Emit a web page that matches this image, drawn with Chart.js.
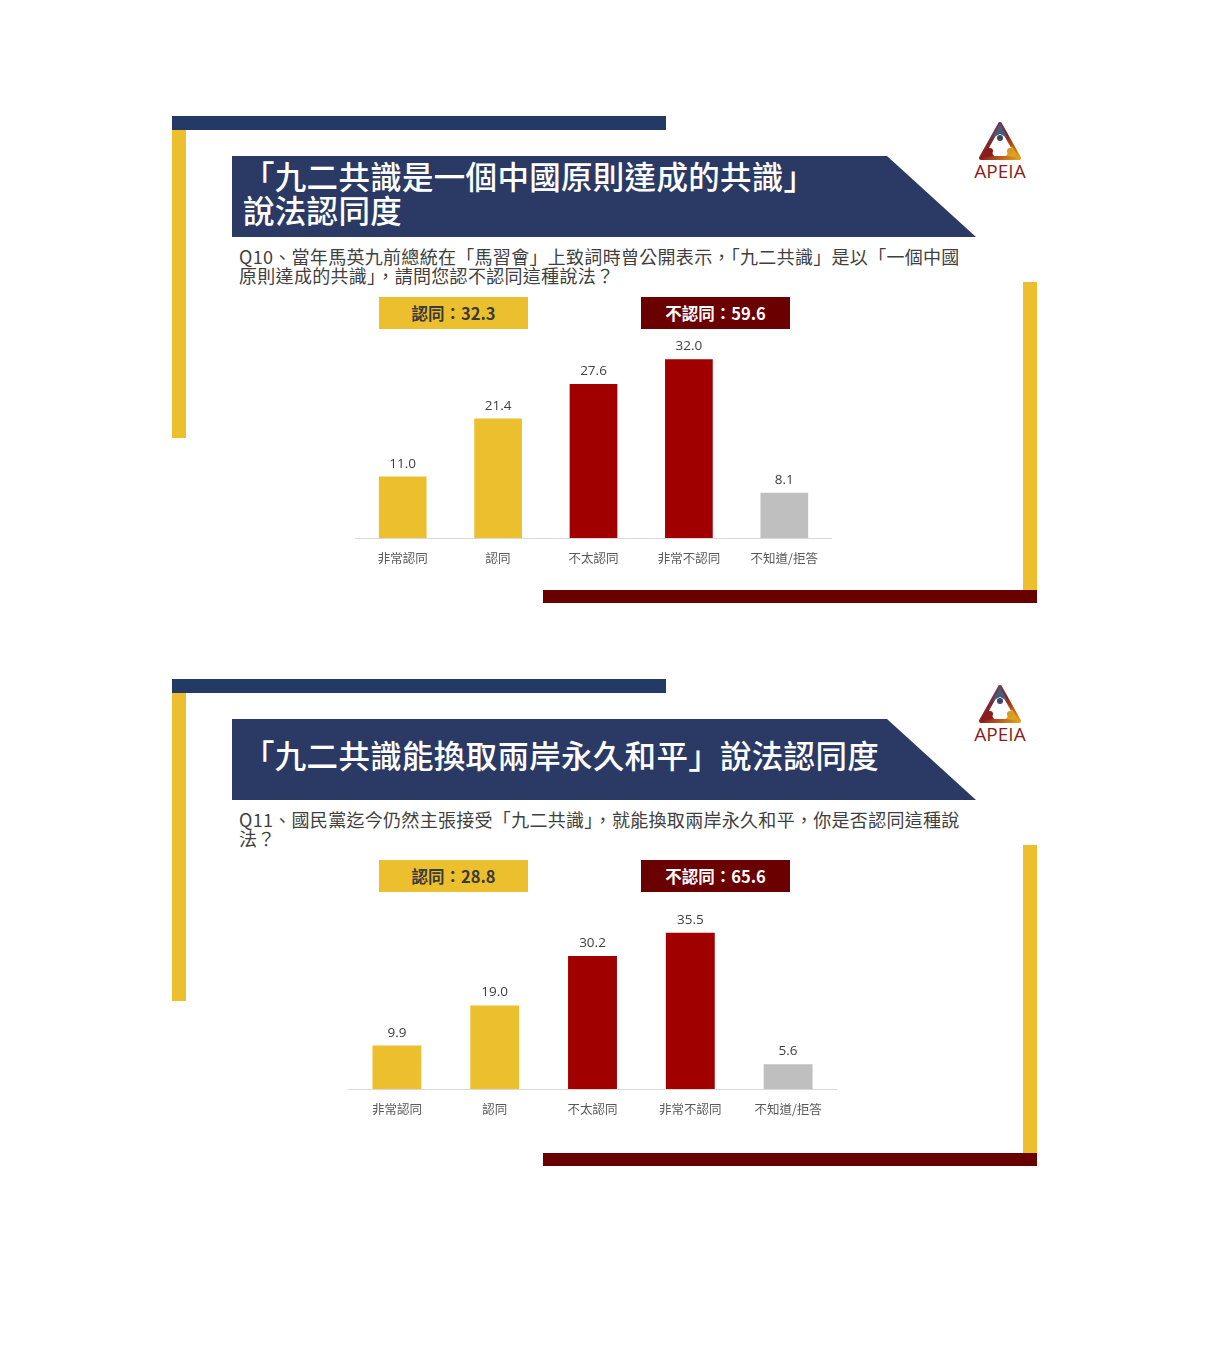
<!DOCTYPE html>
<html>
<head>
<meta charset="utf-8">
<script src="https://cdn.jsdelivr.net/npm/chart.js@4/dist/chart.umd.min.js"></script>
<style>
  body { margin: 0; background: #fff; width: 1208px; height: 1369px; position: relative; overflow: hidden;
         font-family: "Noto Sans CJK TC", "Noto Sans", sans-serif; }
  .abs { position: absolute; }
  .navy { background: #243a66; }
  .yellow { background: #ecbf2e; }
  .maroon { background: #690000; }
  .banner { background: #2b3a64; clip-path: polygon(0 0, 655px 0, 744px 100%, 0 100%); }
  .title { color: #fff; font-size: 31.5px; line-height: 34px; font-weight: 500; white-space: nowrap; letter-spacing: 0.3px; }
  .question { color: #404040; font-size: 18px; line-height: 19px; width: 730px; letter-spacing: 0.3px; }
  .box { width: 149px; height: 32px; line-height: 32px; text-align: center; font-size: 16.5px; font-weight: bold; }
  .box.agree { background: #ecbf2e; color: #3a3a3a; }
  .box.disagree { background: #6b0000; color: #fff; }
  .logo-text { color: #8b1c1c; font-family: "Open Sans", sans-serif; font-size: 19px; width: 70px; text-align: center; }
</style>
</head>
<body>
<script>
const categories = ['非常認同', '認同', '不太認同', '非常不認同', '不知道/拒答'];
const q10Values = [11.0, 21.4, 27.6, 32.0, 8.1];
const q11Values = [9.9, 19.0, 30.2, 35.5, 5.6];
const agreeTotals = [32.3, 28.8];
const disagreeTotals = [59.6, 65.6];
const titles = [
  ['「九二共識是一個中國原則達成的共識」', '說法認同度'],
  ['「九二共識能換取兩岸永久和平」說法認同度']
];
const questions = [
  'Q10、當年馬英九前總統在「馬習會」上致詞時曾公開表示，「九二共識」是以「一個中國原則達成的共識」，請問您認不認同這種說法？',
  'Q11、國民黨迄今仍然主張接受「九二共識」，就能換取兩岸永久和平，你是否認同這種說法？'
];

function div(cls, css, html) {
  const d = document.createElement('div');
  d.className = 'abs ' + cls;
  Object.assign(d.style, css);
  if (html) d.innerHTML = html;
  document.body.appendChild(d);
  return d;
}

function logo(x, y) {
  const svg = `<svg width="60" height="40" viewBox="0 0 60 40">
    <defs>
      <linearGradient id="lg${y}" x1="0" y1="0" x2="1" y2="1">
        <stop offset="0" stop-color="#4a5a78"/><stop offset="0.5" stop-color="#8b1c1c"/><stop offset="1" stop-color="#e0a020"/>
      </linearGradient>
    </defs>
    <path d="M30 2 L49 36 L11 36 Z" fill="none" stroke="url(#lg${y})" stroke-width="4" stroke-linejoin="round"/>
    <path d="M30 2 L22 16 L30 12 L38 16 Z" fill="#4a5a78"/>
    <path d="M11 36 L18 24 L24 34 Z" fill="#8b1c1c"/>
    <path d="M49 36 L42 24 L36 34 Z" fill="#e0a020"/>
    <circle cx="30" cy="16" r="3" fill="#3c4660"/>
    <circle cx="20" cy="29" r="3" fill="#8b1c1c"/>
    <circle cx="40" cy="29" r="3" fill="#d89a20"/>
  </svg>`;
  div('', { left: x + 'px', top: y + 'px', width: '60px', height: '40px' }, svg);
  div('logo-text', { left: (x - 5) + 'px', top: (y + 36) + 'px' }, 'APEIA');
}

const labelPlugin = {
  id: 'valueLabels',
  afterDatasetsDraw(chart) {
    const ctx = chart.ctx;
    const meta = chart.getDatasetMeta(0);
    ctx.save();
    ctx.font = '13.5px "Open Sans", "Noto Sans", sans-serif';
    ctx.fillStyle = '#404040';
    ctx.textAlign = 'center';
    ctx.textBaseline = 'bottom';
    meta.data.forEach((bar, i) => {
      ctx.fillText(chart.data.datasets[0].data[i].toFixed(1), bar.x, bar.y - 6);
    });
    ctx.restore();
  }
};

function makeChart(canvas, values, yMax) {
  return new Chart(canvas, {
    type: 'bar',
    data: {
      labels: categories,
      datasets: [{
        data: values,
        backgroundColor: ['#ecbf2e', '#ecbf2e', '#a00000', '#a00000', '#bfbfbf'],
        categoryPercentage: 1,
        barPercentage: 0.5
      }]
    },
    options: {
      responsive: false,
      animation: false,
      layout: { padding: { top: 20, left: 0, right: 0, bottom: 0 } },
      plugins: { legend: { display: false }, tooltip: { enabled: false } },
      scales: {
        x: {
          grid: { display: false, drawTicks: false },
          border: { display: true, color: '#d9d9d9', width: 1 },
          ticks: { color: '#595959', padding: 12.5, font: { size: 12.5, family: '"Noto Sans CJK TC", sans-serif' } }
        },
        y: { display: false, min: 0, max: yMax }
      }
    },
    plugins: [labelPlugin]
  });
}

function slide(k, dy, chartBox, values, yMax) {
  div('navy', { left: '172px', top: (116 + dy) + 'px', width: '494px', height: '14px' });
  div('yellow', { left: '172px', top: (130 + dy) + 'px', width: '14px', height: '308px' });
  div('yellow', { left: '1023px', top: (282 + dy) + 'px', width: '14px', height: '308px' });
  div('maroon', { left: '543px', top: (590 + dy) + 'px', width: '494px', height: '13px' });

  const b = div('banner', { left: '232px', top: (156 + dy) + 'px', width: '744px', height: '81px' });
  b.style.filter = 'drop-shadow(0 2px 1px rgba(0,0,0,0.25))';
  const lines = titles[k];
  const firstTop = lines.length > 1 ? 158 : 174;
  lines.forEach((t, i) => {
    div('title', { left: '243px', top: (firstTop + i * 34 + dy) + 'px' }, t);
  });

  logo(970, 122 + dy);

  div('question', { left: '239px', top: (247 + dy) + 'px' }, questions[k]);

  div('box agree', { left: '379px', top: (297 + dy) + 'px' }, '認同：' + agreeTotals[k].toFixed(1));
  div('box disagree', { left: '641px', top: (297 + dy) + 'px' }, '不認同：' + disagreeTotals[k].toFixed(1));

  const c = document.createElement('canvas');
  c.className = 'abs';
  c.width = chartBox.w; c.height = chartBox.h;
  Object.assign(c.style, { left: chartBox.x + 'px', top: chartBox.y + 'px', width: chartBox.w + 'px', height: chartBox.h + 'px' });
  document.body.appendChild(c);
  makeChart(c, values, yMax);
}

slide(0, 0, { x: 355, y: 317, w: 477, h: 261 }, q10Values, 36);
slide(1, 563, { x: 348, y: 893, w: 489, h: 236 }, q11Values, 40);
</script>
</body>
</html>
